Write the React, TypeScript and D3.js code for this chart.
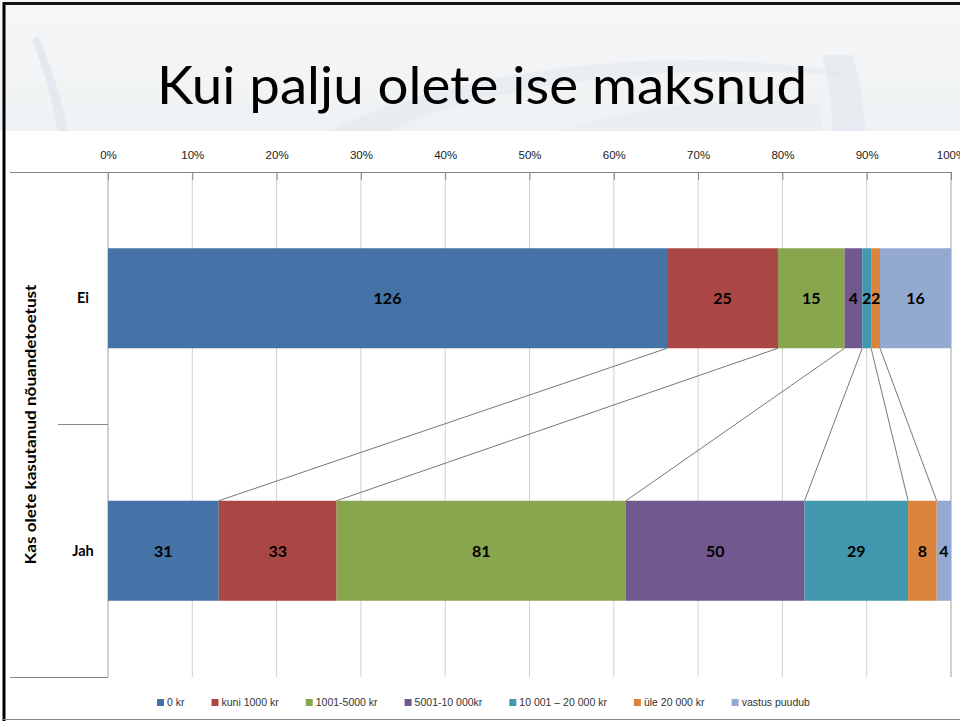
import React, { useEffect, useRef } from "react";
import * as d3 from "d3";

const categories = ["Ei", "Jah"];
const seriesNames = [
  "0 kr",
  "kuni 1000 kr",
  "1001-5000 kr",
  "5001-10 000kr",
  "10 001 \u2013 20 000 kr",
  "üle 20 000 kr",
  "vastus puudub",
];
const eiValues = [126, 25, 15, 4, 2, 2, 16];
const jahValues = [31, 33, 81, 50, 29, 8, 4];
const tickValues = [0, 0.1, 0.2, 0.3, 0.4, 0.5, 0.6, 0.7, 0.8, 0.9, 1];
const colors = ["#4572A7", "#AA4643", "#89A54E", "#71588F", "#4198AF", "#DB843D", "#93A9CF"];

const W = 960;
const H = 721;

export default function App() {
  const ref = useRef<SVGSVGElement>(null);

  useEffect(() => {
    const svg = d3.select(ref.current);
    svg.selectAll("*").remove();

    // slide header background
    const defs = svg.append("defs");
    const grad = defs.append("linearGradient").attr("id", "hdr").attr("x1", 0).attr("y1", 0).attr("x2", 0).attr("y2", 1);
    grad.append("stop").attr("offset", "0%").attr("stop-color", "#f5f6f7");
    grad.append("stop").attr("offset", "100%").attr("stop-color", "#eff2f4");
    svg.append("rect").attr("x", 0).attr("y", 0).attr("width", W).attr("height", 131).attr("fill", "url(#hdr)");
    const sw = svg.append("g").attr("fill", "#d9e3eb");
    sw.append("path").attr("d", "M38,35 C52,70 62,100 68,131 L58,131 C52,100 44,70 32,40 Z").attr("opacity", 0.6);
    sw.append("path").attr("d", "M330,131 C420,85 560,60 700,60 C780,62 840,70 860,78 C840,74 760,70 700,72 C570,76 450,100 390,131 Z").attr("opacity", 0.35);
    sw.append("path").attr("d", "M560,131 C640,104 740,96 820,104 L822,131 Z").attr("opacity", 0.3);
    sw.append("path").attr("d", "M822,55 C828,80 832,105 833,131 L865,131 C864,105 860,80 852,55 Z").attr("opacity", 0.45);

    svg.append("text")
      .attr("x", 157).attr("y", 104)
      .attr("textLength", 650).attr("lengthAdjust", "spacingAndGlyphs")
      .style("font-family", "Lato, 'Open Sans', sans-serif").style("font-size", "52px").style("font-weight", 400)
      .attr("fill", "#000").text("Kui palju olete ise maksnud");

    // chart
    const left = 108, right = 951, top = 172, bottom = 677;
    const x = d3.scaleLinear().domain([0, 1]).range([left, right]);
    const y = d3.scaleBand<string>().domain(categories).range([top, bottom]).paddingInner(0.604).paddingOuter(0.302);

    // gridlines
    svg.append("g").selectAll("line").data(tickValues.slice(1)).enter().append("line")
      .attr("x1", (d) => x(d)).attr("x2", (d) => x(d)).attr("y1", top).attr("y2", bottom)
      .attr("stroke", (d) => (d === 1 ? "#a0a0a0" : "#d0d0d0")).attr("stroke-width", 1);

    // top value axis
    const axisG = svg.append("g").attr("transform", `translate(0,${top})`)
      .call(d3.axisTop(x).tickValues(tickValues).tickFormat(d3.format(".0%")).tickSize(-8).tickPadding(13).tickSizeOuter(0));
    axisG.select(".domain").attr("stroke", "#868686");
    axisG.selectAll(".tick line").attr("stroke", "#868686");
    axisG.selectAll(".tick text")
      .style("font-family", "'Liberation Sans Narrow', 'Liberation Sans', sans-serif").style("font-size", "11.5px").attr("fill", "#222");
    svg.append("line").attr("x1", 10).attr("x2", left).attr("y1", top + 0.5).attr("y2", top + 0.5).attr("stroke", "#868686");

    // category axis lines
    svg.append("line").attr("x1", left).attr("x2", left).attr("y1", top).attr("y2", bottom).attr("stroke", "#a0a0a0");
    svg.append("line").attr("x1", 58).attr("x2", left).attr("y1", (top + bottom) / 2).attr("y2", (top + bottom) / 2).attr("stroke", "#868686");
    svg.append("line").attr("x1", 10).attr("x2", left).attr("y1", bottom + 0.5).attr("y2", bottom + 0.5).attr("stroke", "#868686");

    const rows = [eiValues, jahValues].map((vals, ci) => {
      const total = d3.sum(vals);
      let acc = 0;
      return vals.map((v, i) => {
        const x0 = acc / total;
        acc += v;
        return { cat: categories[ci], v, i, x0, x1: acc / total };
      });
    });

    // series lines
    const bw = y.bandwidth();
    svg.append("g").selectAll("line").data(d3.range(seriesNames.length - 1)).enter().append("line")
      .attr("x1", (i) => x(rows[0][i].x1)).attr("y1", y("Ei")! + bw)
      .attr("x2", (i) => x(rows[1][i].x1)).attr("y2", y("Jah")!)
      .attr("stroke", "#555").attr("stroke-width", 0.8);

    // bars
    rows.forEach((row) => {
      const g = svg.append("g");
      g.selectAll("rect").data(row).enter().append("rect")
        .attr("x", (d) => x(d.x0)).attr("width", (d) => x(d.x1) - x(d.x0))
        .attr("y", (d) => y(d.cat)!).attr("height", bw)
        .attr("fill", (d) => colors[d.i]);
      g.selectAll("text").data(row).enter().append("text")
        .attr("x", (d) => (x(d.x0) + x(d.x1)) / 2).attr("y", (d) => y(d.cat)! + bw / 2)
        .attr("text-anchor", "middle").attr("dy", "0.36em")
        .style("font-family", "Lato, sans-serif").style("font-weight", "bold").style("font-size", "16px")
        .attr("fill", "#000").text((d) => d.v);
    });

    // category labels
    svg.append("g").selectAll("text").data(categories).enter().append("text")
      .attr("x", 83).attr("y", (d) => y(d)! + bw / 2).attr("dy", "0.35em").attr("text-anchor", "middle")
      .style("font-family", "Lato, sans-serif").style("font-weight", "bold").style("font-size", "14.5px")
      .text((d) => d);
    svg.append("text")
      .attr("transform", `translate(36,${(top + bottom) / 2}) rotate(-90)`).attr("text-anchor", "middle")
      .attr("textLength", 280).attr("lengthAdjust", "spacingAndGlyphs")
      .style("font-family", "Lato, sans-serif").style("font-weight", "bold").style("font-size", "15px")
      .text("Kas olete kasutanud nõuandetoetust");

    // legend
    const lg = svg.append("g").attr("transform", "translate(157,703)");
    let lx = 0;
    seriesNames.forEach((name, i) => {
      const item = lg.append("g").attr("transform", `translate(${lx},0)`);
      item.append("rect").attr("x", 0).attr("y", -4).attr("width", 7).attr("height", 7).attr("fill", colors[i]);
      const t = item.append("text").attr("x", 10).attr("y", 0).attr("dy", "0.33em")
        .style("font-family", "'Liberation Sans Narrow', 'Liberation Sans', sans-serif").style("font-size", "10.5px")
        .attr("fill", "#333").text(name);
      const tw = (t.node() as SVGTextElement).getComputedTextLength();
      lx += 10 + tw + 27;
    });

    // slide frame
    svg.append("line").attr("x1", 4).attr("x2", 4).attr("y1", 2).attr("y2", H).attr("stroke", "#000").attr("stroke-width", 3);
    svg.append("line").attr("x1", 3).attr("x2", W).attr("y1", 3.5).attr("y2", 3.5).attr("stroke", "#111").attr("stroke-width", 3);
    svg.append("line").attr("x1", 3).attr("x2", W).attr("y1", 719.5).attr("y2", 719.5).attr("stroke", "#888").attr("stroke-width", 1);
  }, []);

  return (
    <svg ref={ref} width={W} height={H} style={{ position: "absolute", left: 0, top: 0, background: "#fff" }} />
  );
}
